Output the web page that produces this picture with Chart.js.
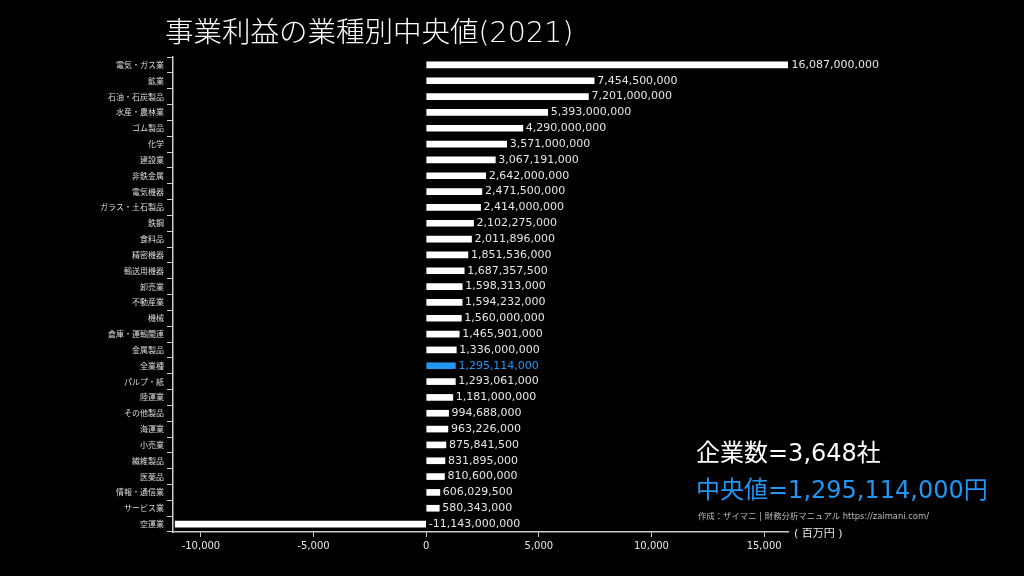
<!DOCTYPE html>
<html>
<head>
<meta charset="utf-8">
<script src="https://cdn.jsdelivr.net/npm/chart.js@4"></script>
<style>
  html, body { margin: 0; padding: 0; background: #000; }
  #wrap { width: 1024px; height: 576px; }
</style>
</head>
<body>
<div id="wrap"><canvas id="chart"></canvas></div>
<script>
// 業種ごとの事業利益の中央値 (百万円)
const industries = ['電気・ガス業', '鉱業', '石油・石炭製品', '水産・農林業', 'ゴム製品', '化学', '建設業', '非鉄金属',
  '電気機器', 'ガラス・土石製品', '鉄鋼', '食料品', '精密機器', '輸送用機器', '卸売業', '不動産業', '機械',
  '倉庫・運輸関連', '金属製品', '全業種', 'パルプ・紙', '陸運業', 'その他製品', '海運業', '小売業', '繊維製品',
  '医薬品', '情報・通信業', 'サービス業', '空運業'];
const medians = [16087, 7454.5, 7201, 5393, 4290, 3571, 3067.191, 2642, 2471.5, 2414, 2102.275, 2011.896,
  1851.536, 1687.3575, 1598.313, 1594.232, 1560, 1465.901, 1336, 1295.114, 1293.061, 1181, 994.688,
  963.226, 875.8415, 831.895, 810.6, 606.0295, 580.343, -11143];
const xTicks = [-10000, -5000, 0, 5000, 10000, 15000];
const companyCount = '企業数=3,648社';
const medianText = '中央値=1,295,114,000円';

const BLUE = '#2196f3';
const FONT = "'DejaVu Sans', 'Noto Sans CJK JP', sans-serif";
const CJK = "'Noto Sans CJK JP', sans-serif";

function yen(v) {
  return Math.round(v * 1000000).toLocaleString('en-US');
}

const barColors = industries.map(n => n == '全業種' ? BLUE : '#ffffff');

// 値ラベルと注記
const labelPlugin = {
  id: 'labels',
  afterDatasetsDraw(chart) {
    const ctx = chart.ctx;
    const meta = chart.getDatasetMeta(0);
    ctx.save();
    ctx.font = '11px ' + FONT;
    ctx.textBaseline = 'middle';
    ctx.textAlign = 'left';
    meta.data.forEach((bar, i) => {
      const right = Math.max(bar.x, bar.base);
      ctx.fillStyle = industries[i] == '全業種' ? BLUE : '#e6e6e6';
      ctx.fillText(yen(medians[i]), right + 3, bar.y);
    });
    ctx.restore();
  },
  afterDraw(chart) {
    const ctx = chart.ctx;
    ctx.save();
    ctx.textBaseline = 'alphabetic';
    ctx.textAlign = 'left';
    ctx.fillStyle = '#ffffff';
    ctx.font = '300 28.5px ' + FONT;
    ctx.fillText('事業利益の業種別中央値(2021)', 165, 42);

    ctx.font = '24px ' + FONT;
    ctx.fillText(companyCount, 696, 461);
    ctx.fillStyle = BLUE;
    ctx.fillText(medianText, 696, 498);

    ctx.fillStyle = '#bbbbbb';
    ctx.font = '8.4px ' + FONT;
    ctx.fillText('作成：ザイマニ | 財務分析マニュアル https://zaimani.com/', 698, 519);

    ctx.fillStyle = '#e6e6e6';
    ctx.font = '11px ' + FONT;
    ctx.textBaseline = 'middle';
    ctx.fillText('( 百万円 )', 794, 534);
    ctx.restore();
  }
};

new Chart(document.getElementById('chart'), {
  type: 'bar',
  data: {
    labels: industries,
    datasets: [{
      data: medians,
      backgroundColor: barColors,
      borderWidth: 0,
      barThickness: 6
    }]
  },
  options: {
    indexAxis: 'y',
    responsive: true,
    maintainAspectRatio: false,
    animation: false,
    layout: { padding: { top: 57, right: 236, bottom: 0, left: 0 } },
    plugins: {
      legend: { display: false },
      tooltip: { enabled: false }
    },
    scales: {
      x: {
        min: -11240,
        max: 16060,
        afterBuildTicks(scale) {
          scale.ticks = xTicks.map(v => ({ value: v }));
        },
        afterFit(scale) { scale.height = 44; },
        grid: { drawOnChartArea: false, drawTicks: true, tickLength: 5, color: '#cccccc' },
        border: { color: '#cccccc', width: 1.5 },
        ticks: {
          color: '#e6e6e6',
          font: { size: 10, family: FONT },
          padding: 3,
          maxRotation: 0,
          callback: v => v.toLocaleString('en-US')
        }
      },
      y: {
        afterFit(scale) { scale.width = 173; },
        grid: { drawOnChartArea: false, drawTicks: true, tickLength: 6, color: '#cccccc' },
        border: { color: '#cccccc', width: 1.5 },
        ticks: {
          color: '#dddddd',
          font: { size: 8, family: CJK },
          padding: 3,
          autoSkip: false
        }
      }
    }
  },
  plugins: [labelPlugin]
});
</script>
</body>
</html>
